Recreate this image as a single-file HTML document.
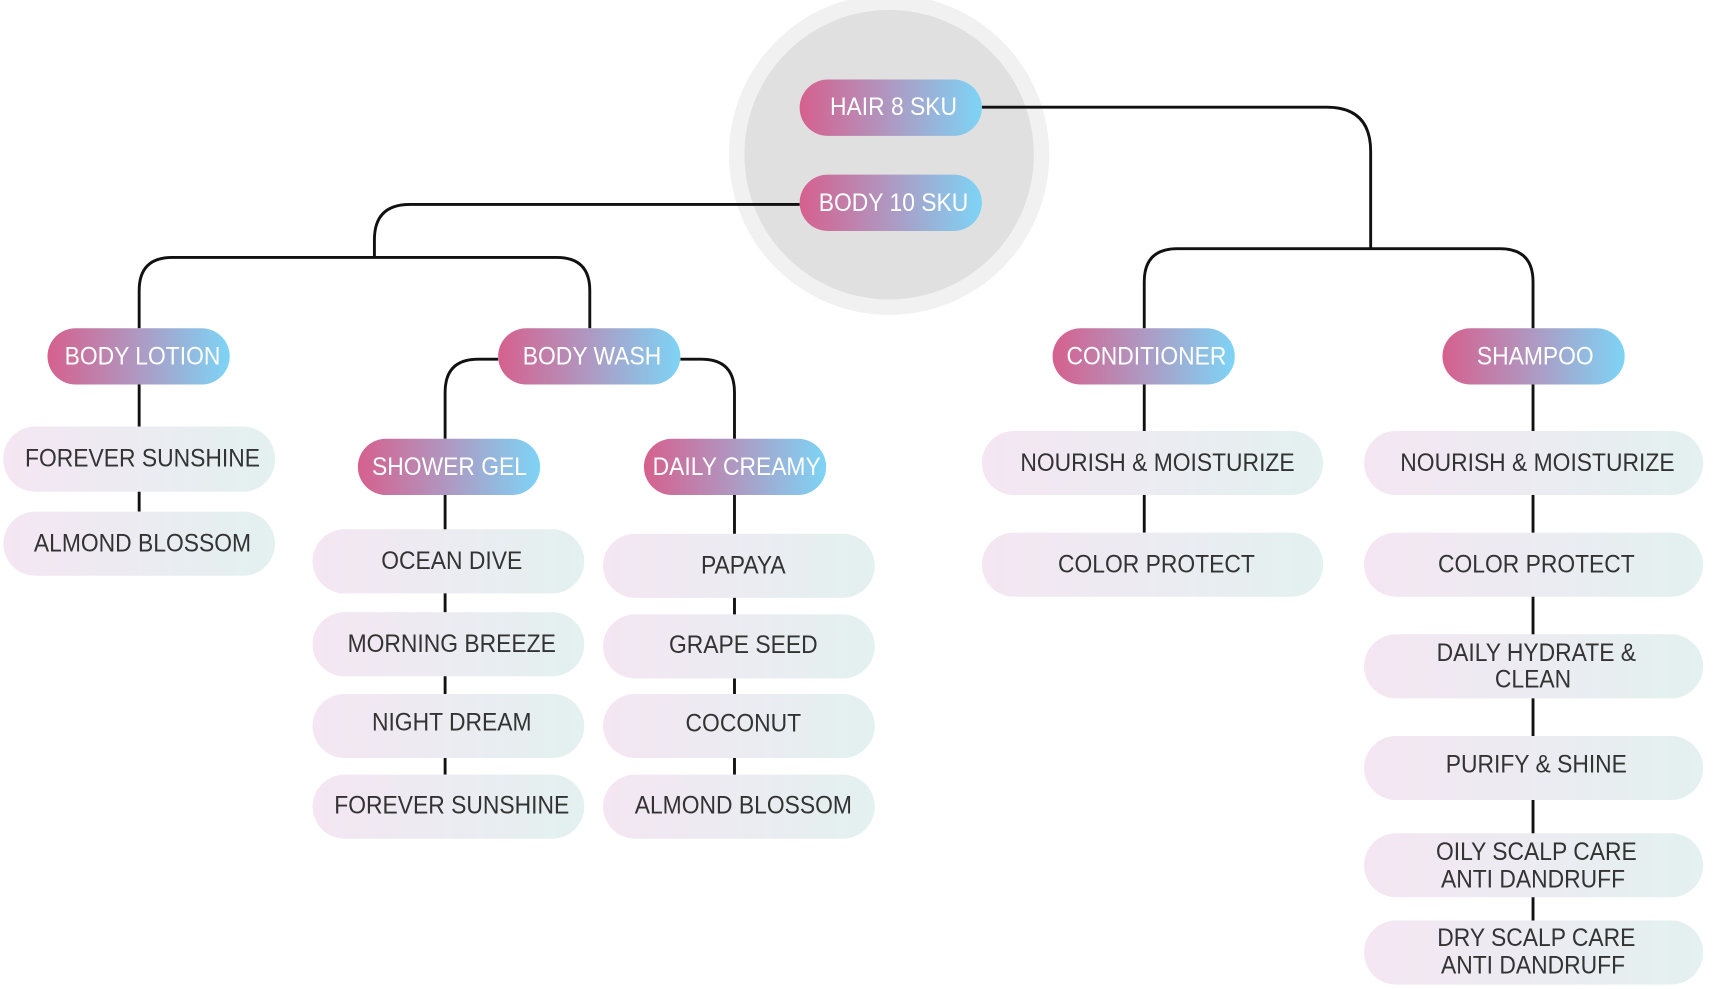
<!DOCTYPE html>
<html><head><meta charset="utf-8"><style>
html,body{margin:0;padding:0;background:#fff;}
svg{display:block;}
text{font-family:"Liberation Sans",sans-serif;font-size:22.5px;text-anchor:middle;dominant-baseline:central;transform-box:fill-box;transform-origin:center;transform:scaleX(0.92);}
.w{fill:#fff;}
.d{fill:#333;}
</style></head><body>
<svg width="1723" height="989" viewBox="0 0 1560 895" preserveAspectRatio="none" xmlns="http://www.w3.org/2000/svg">
<defs>
<linearGradient id="g" x1="0" x2="1" y1="0" y2="0"><stop offset="0" stop-color="#d6608e"/><stop offset="0.5" stop-color="#ae99c2"/><stop offset="1" stop-color="#7dd4f6"/></linearGradient>
<linearGradient id="l" x1="0" x2="1" y1="0" y2="0"><stop offset="0" stop-color="#f4e6f2"/><stop offset="1" stop-color="#e3f1f0"/></linearGradient>
</defs>
<g transform="translate(-4,0)">
<circle cx="809" cy="140" r="145" fill="#f1f1f1"/>
<circle cx="809" cy="140" r="131" fill="#e0e0e0"/>
<g fill="none" stroke="#111" stroke-width="2.6">
<path d="M893 97 H1205 Q1245 97 1245 137 V225"/>
<path d="M1040 297 V255 Q1040 225 1070 225 H1362 Q1392 225 1392 255 V297"/>
<path d="M728 185 H375 Q343 185 343 217 V233"/>
<path d="M130 297 V263 Q130 233 160 233 H508 Q538 233 538 263 V297"/>
<path d="M455 325 H437 Q407 325 407 355 V397"/>
<path d="M620 325 H639 Q669 325 669 355 V397"/>
<path d="M130 348 V463"/>
<path d="M407 448 V701"/>
<path d="M669 448 V701"/>
<path d="M1040 348 V482"/>
<path d="M1392 348 V833"/>
</g>
<g>
<rect x="728" y="72" width="165" height="51" rx="25.5" fill="url(#g)"/><text class="w" x="813" y="97">HAIR 8 SKU</text>
<rect x="728" y="158" width="165" height="51" rx="25.5" fill="url(#g)"/><text class="w" x="813" y="184">BODY 10 SKU</text>
<rect x="47" y="297" width="165" height="51" rx="25.5" fill="url(#g)"/><text class="w" x="133" y="323">BODY LOTION</text>
<rect x="455" y="297" width="165" height="51" rx="25.5" fill="url(#g)"/><text class="w" x="540" y="323">BODY WASH</text>
<rect x="957" y="297" width="165" height="51" rx="25.5" fill="url(#g)"/><text class="w" x="1042" y="323">CONDITIONER</text>
<rect x="1310" y="297" width="165" height="51" rx="25.5" fill="url(#g)"/><text class="w" x="1394" y="323">SHAMPOO</text>
<rect x="328" y="397" width="165" height="51" rx="25.5" fill="url(#g)"/><text class="w" x="411" y="423">SHOWER GEL</text>
<rect x="587" y="397" width="165" height="51" rx="25.5" fill="url(#g)"/><text class="w" x="671" y="423">DAILY CREAMY</text>
</g>
<g>
<rect x="7" y="386" width="246" height="59" rx="29" fill="url(#l)"/><text class="d" x="133" y="415">FOREVER SUNSHINE</text>
<rect x="7" y="463" width="246" height="58" rx="29" fill="url(#l)"/><text class="d" x="133" y="492">ALMOND BLOSSOM</text>
<rect x="287" y="479" width="246" height="58" rx="29" fill="url(#l)"/><text class="d" x="413" y="508">OCEAN DIVE</text>
<rect x="287" y="554" width="246" height="58" rx="29" fill="url(#l)"/><text class="d" x="413" y="583">MORNING BREEZE</text>
<rect x="287" y="628" width="246" height="58" rx="29" fill="url(#l)"/><text class="d" x="413" y="654">NIGHT DREAM</text>
<rect x="287" y="701" width="246" height="58" rx="29" fill="url(#l)"/><text class="d" x="413" y="729">FOREVER SUNSHINE</text>
<rect x="550" y="483" width="246" height="58" rx="29" fill="url(#l)"/><text class="d" x="677" y="512">PAPAYA</text>
<rect x="550" y="556" width="246" height="58" rx="29" fill="url(#l)"/><text class="d" x="677" y="584">GRAPE SEED</text>
<rect x="550" y="628" width="246" height="58" rx="29" fill="url(#l)"/><text class="d" x="677" y="655">COCONUT</text>
<rect x="550" y="701" width="246" height="58" rx="29" fill="url(#l)"/><text class="d" x="677" y="729">ALMOND BLOSSOM</text>
<rect x="893" y="390" width="309" height="58" rx="29" fill="url(#l)"/><text class="d" x="1052" y="419">NOURISH &amp; MOISTURIZE</text>
<rect x="893" y="482" width="309" height="58" rx="29" fill="url(#l)"/><text class="d" x="1051" y="511">COLOR PROTECT</text>
<rect x="1239" y="390" width="307" height="58" rx="29" fill="url(#l)"/><text class="d" x="1396" y="419">NOURISH &amp; MOISTURIZE</text>
<rect x="1239" y="482" width="307" height="58" rx="29" fill="url(#l)"/><text class="d" x="1395" y="511">COLOR PROTECT</text>
<rect x="1239" y="574" width="307" height="58" rx="29" fill="url(#l)"/><text class="d" x="1395" y="591">DAILY HYDRATE &amp;</text><text class="d" x="1392" y="615">CLEAN</text>
<rect x="1239" y="666" width="307" height="58" rx="29" fill="url(#l)"/><text class="d" x="1395" y="692">PURIFY &amp; SHINE</text>
<rect x="1239" y="754" width="307" height="58" rx="29" fill="url(#l)"/><text class="d" x="1395" y="771">OILY SCALP CARE</text><text class="d" x="1392" y="796">ANTI DANDRUFF</text>
<rect x="1239" y="833" width="307" height="58" rx="29" fill="url(#l)"/><text class="d" x="1395" y="849">DRY SCALP CARE</text><text class="d" x="1392" y="874">ANTI DANDRUFF</text>
</g>
</g>
</svg>
</body></html>
